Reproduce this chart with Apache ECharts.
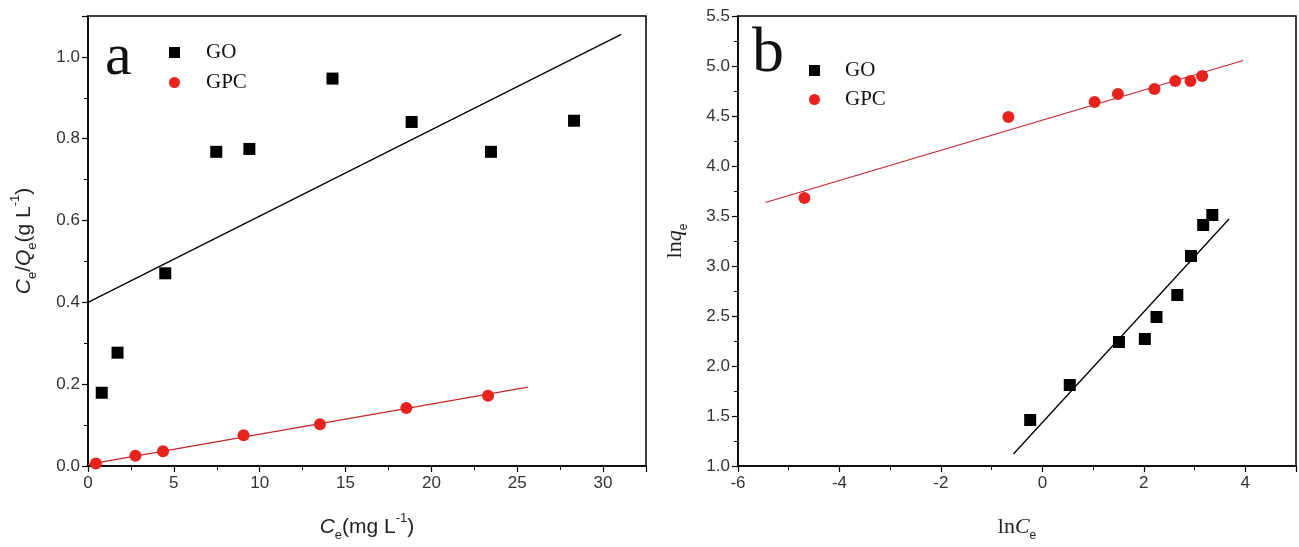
<!DOCTYPE html>
<html>
<head>
<meta charset="utf-8">
<script src="https://cdn.jsdelivr.net/npm/echarts@6/dist/echarts.min.js"></script>
<style>html,body{margin:0;padding:0;background:#fff;}#c{width:1299px;height:547px;}</style>
</head>
<body>
<div id="c"></div>
<script>
// Panel a (Langmuir): Ce vs Ce/Qe
const goA = [[0.80,0.179],[1.72,0.277],[4.50,0.471],[7.47,0.768],[9.40,0.775],[14.24,0.947],[18.85,0.841],[23.47,0.768],[28.31,0.844]];
const gpcA = [[0.46,0.006],[2.76,0.025],[4.37,0.036],[9.06,0.075],[13.51,0.102],[18.54,0.142],[23.30,0.172]];
const goFitA = [[0,0.400],[31.06,1.055]];
const gpcFitA = [[0,0.004],[25.62,0.193]];
// Panel b (Freundlich): lnCe vs lnqe
const goB = [[-0.24,1.46],[0.54,1.81],[1.51,2.24],[2.02,2.27],[2.25,2.49],[2.66,2.71],[2.93,3.10],[3.17,3.41],[3.35,3.51]];
const gpcB = [[-4.69,3.68],[-0.67,4.49],[1.03,4.64],[1.49,4.72],[2.21,4.77],[2.62,4.85],[2.92,4.85],[3.15,4.90]];
const goFitB = [[-0.57,1.12],[3.68,3.47]];
const gpcFitB = [[-5.46,3.635],[3.96,5.055]];
const seriesNames = ['GO','GPC'];
const panelLetters = ['a','b'];

const black = '#000000', red = '#e8231e', redLine = '#c3262b';
const sans = 'Liberation Sans, Arial, sans-serif';
const serif = 'Liberation Serif, Times New Roman, serif';

function axisCommon(extra){
  return Object.assign({
    type:'value',
    axisLine:{show:true,onZero:false,lineStyle:{color:black,width:1.5}},
    axisTick:{show:true,inside:false,length:6,lineStyle:{color:black,width:1.2}},
    minorTick:{show:true,splitNumber:2,length:4,lineStyle:{color:black,width:1}},
    splitLine:{show:false},
    axisLabel:{color:'#333',fontFamily:sans,fontSize:17,margin:8},
    nameLocation:'middle'
  }, extra);
}

const richSans = {
  m:{fontFamily:sans,fontSize:21,color:'#222',lineHeight:30},
  i:{fontFamily:sans,fontSize:21,fontStyle:'italic',color:'#222',lineHeight:30},
  sub:{fontFamily:sans,fontSize:13,color:'#222',lineHeight:12,verticalAlign:'bottom'},
  sup:{fontFamily:sans,fontSize:13,color:'#222',lineHeight:14,verticalAlign:'top'}
};
const richSerif = {
  m:{fontFamily:serif,fontSize:22,color:'#222',lineHeight:30},
  i:{fontFamily:serif,fontSize:22,fontStyle:'italic',color:'#222',lineHeight:30},
  sub:{fontFamily:sans,fontSize:12,color:'#222',lineHeight:12,verticalAlign:'bottom'}
};

const chart = echarts.init(document.getElementById('c'));
chart.setOption({
  animation:false,
  backgroundColor:'#fff',
  grid:[
    {left:88,top:16,width:558,height:451,show:true,borderColor:black,borderWidth:1.5,backgroundColor:'transparent'},
    {left:738,top:16,width:558,height:451,show:true,borderColor:black,borderWidth:1.5,backgroundColor:'transparent'}
  ],
  xAxis:[
    axisCommon({gridIndex:0,min:0,max:32.5,interval:5,
      axisLabel:{color:'#333',fontFamily:sans,fontSize:17,margin:9,showMaxLabel:false},
      name:'{i|C}{sub|e}{m|(mg L}{sup|-1}{m|)}',nameGap:46,nameTextStyle:{rich:richSans}}),
    axisCommon({gridIndex:1,min:-6,max:5,interval:2,
      axisLabel:{color:'#333',fontFamily:sans,fontSize:17,margin:9,showMaxLabel:false},
      name:'{m|ln}{i|C}{sub|e}',nameGap:46,nameTextStyle:{rich:richSerif}})
  ],
  yAxis:[
    axisCommon({gridIndex:0,min:0,max:1.1,interval:0.2,
      axisLabel:{color:'#333',fontFamily:sans,fontSize:17,margin:8,showMaxLabel:false,formatter:v=>v.toFixed(1)},
      name:'{i|C}{sub|e}{m|/}{i|Q}{sub|e}{m|(g L}{sup|-1}{m|)}',nameGap:49,nameTextStyle:{rich:richSans}}),
    axisCommon({gridIndex:1,min:1,max:5.5,interval:0.5,
      axisLabel:{color:'#333',fontFamily:sans,fontSize:17,margin:8,formatter:v=>v.toFixed(1)},
      name:'{m|ln}{i|q}{sub|e}',nameGap:48,nameTextStyle:{rich:richSerif}})
  ],
  legend:[
    {left:164,top:37,orient:'vertical',itemGap:9,itemWidth:11,itemHeight:11,data:seriesNames,
      textStyle:{fontFamily:serif,fontSize:21,color:'#111',padding:[0,0,0,21],lineHeight:20},selectedMode:false},
    {left:804,top:55,orient:'vertical',itemGap:8,itemWidth:11,itemHeight:11,data:seriesNames,
      textStyle:{fontFamily:serif,fontSize:21,color:'#111',padding:[0,0,0,20],lineHeight:20},selectedMode:false}
  ],
  graphic:[
    {type:'text',left:105,top:28,style:{text:panelLetters[0],font:'60px '+serif,fill:'#111'}},
    {type:'text',left:752,top:22,style:{text:panelLetters[1],font:'64px '+serif,fill:'#111'}}
  ],
  series:[
    {name:'GO fit a',type:'line',xAxisIndex:0,yAxisIndex:0,data:goFitA,showSymbol:false,symbol:'none',lineStyle:{color:black,width:1.3},z:2},
    {name:'GPC fit a',type:'line',xAxisIndex:0,yAxisIndex:0,data:gpcFitA,showSymbol:false,symbol:'none',lineStyle:{color:redLine,width:1.3},z:2},
    {name:'GO',type:'scatter',xAxisIndex:0,yAxisIndex:0,data:goA,symbol:'rect',symbolSize:12,itemStyle:{color:black,opacity:1},z:3},
    {name:'GPC',type:'scatter',xAxisIndex:0,yAxisIndex:0,data:gpcA,symbol:'circle',symbolSize:12,itemStyle:{color:red,opacity:1},z:3},
    {name:'GO fit b',type:'line',xAxisIndex:1,yAxisIndex:1,data:goFitB,showSymbol:false,symbol:'none',lineStyle:{color:black,width:1.3},z:2},
    {name:'GPC fit b',type:'line',xAxisIndex:1,yAxisIndex:1,data:gpcFitB,showSymbol:false,symbol:'none',lineStyle:{color:redLine,width:1.3},z:2},
    {name:'GO',type:'scatter',xAxisIndex:1,yAxisIndex:1,data:goB,symbol:'rect',symbolSize:12,itemStyle:{color:black,opacity:1},z:3},
    {name:'GPC',type:'scatter',xAxisIndex:1,yAxisIndex:1,data:gpcB,symbol:'circle',symbolSize:12,itemStyle:{color:red,opacity:1},z:3}
  ]
});
</script>
</body>
</html>
